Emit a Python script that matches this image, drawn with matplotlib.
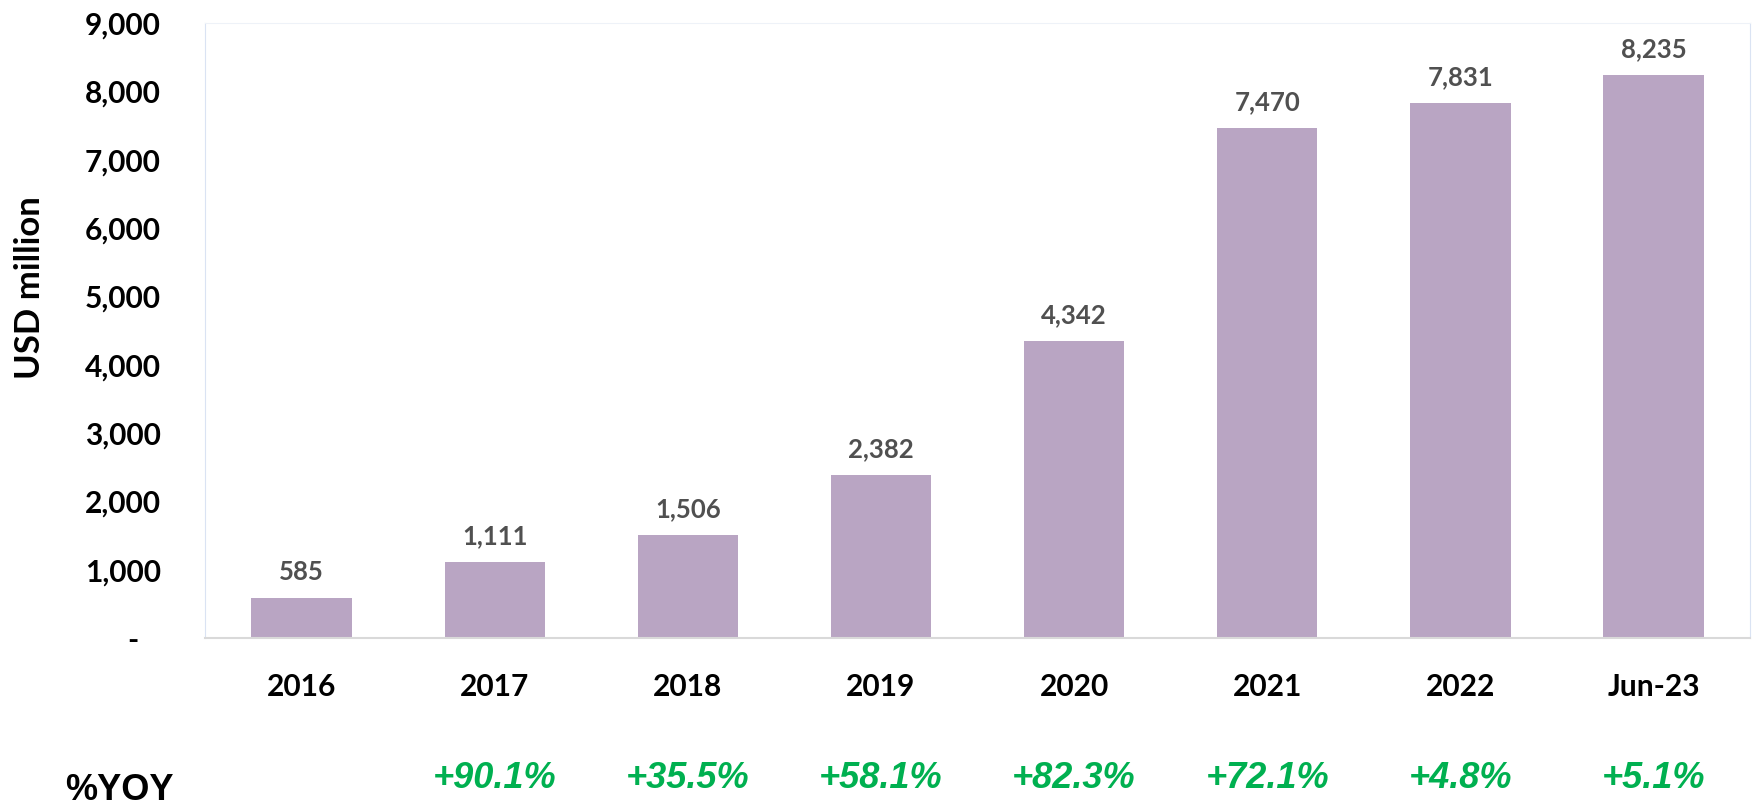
import matplotlib.pyplot as plt
from matplotlib.ticker import FuncFormatter, MultipleLocator
import matplotlib.transforms as mtransforms

periods = ['2016', '2017', '2018', '2019', '2020', '2021', '2022', 'Jun-23']
values = [585, 1111, 1506, 2382, 4342, 7470, 7831, 8235]
yoy = ['', '+90.1%', '+35.5%', '+58.1%', '+82.3%', '+72.1%', '+4.8%', '+5.1%']

bar_color = '#B9A5C3'

fig = plt.figure(figsize=(17.54, 8.06), dpi=100)
ax = fig.add_axes([0.1169, 0.2084, 0.8808, 0.7631])

x = range(len(periods))
bars = ax.bar(x, values, width=0.52, color=bar_color)
ax.bar_label(bars, labels=[f'{v:,}' for v in values], padding=10,
             fontsize=18.5, fontweight='bold', color='#505050', family='Lato')

ax.set_xlim(-0.5, len(periods) - 0.5)
ax.set_ylim(0, 9000)
ax.yaxis.set_major_locator(MultipleLocator(1000))
ax.yaxis.set_major_formatter(FuncFormatter(lambda v, p: '-   ' if v == 0 else f'{v:,.0f}'))

ax.set_xticks(list(x))
ax.set_xticklabels(periods)
ax.tick_params(axis='x', length=0, pad=25, labelsize=21.5)
ax.tick_params(axis='y', length=0, pad=32, labelsize=21.5)
for lbl in ax.get_xticklabels() + ax.get_yticklabels():
    lbl.set_fontweight('bold')
    lbl.set_family('Lato')

ax.set_ylabel('USD million', fontsize=25, fontweight='bold', family='Lato')
ax.yaxis.set_label_coords(-0.103, 0.569)

ax.spines['left'].set_color('#dae3f3')
ax.spines['right'].set_color('#dae3f3')
ax.spines['top'].set_color('#eef2f8')
ax.spines['bottom'].set_color('#d9d9d9')
ax.spines['bottom'].set_linewidth(1.5)

# year-over-year growth row under the axis
trans = mtransforms.blended_transform_factory(ax.transData, ax.transAxes)
for i, t in enumerate(yoy):
    if t:
        ax.text(i, -0.228, t, transform=trans, ha='center', va='center',
                fontsize=26, fontweight='bold', fontstyle='italic',
                color='#00B050', family='Liberation Sans')

fig.text(0.0678, 0.0075, '%YOY', ha='center', va='baseline', fontsize=26,
         fontweight='bold', family='Liberation Sans', color='black')

fig.savefig('out.png', dpi=100)
